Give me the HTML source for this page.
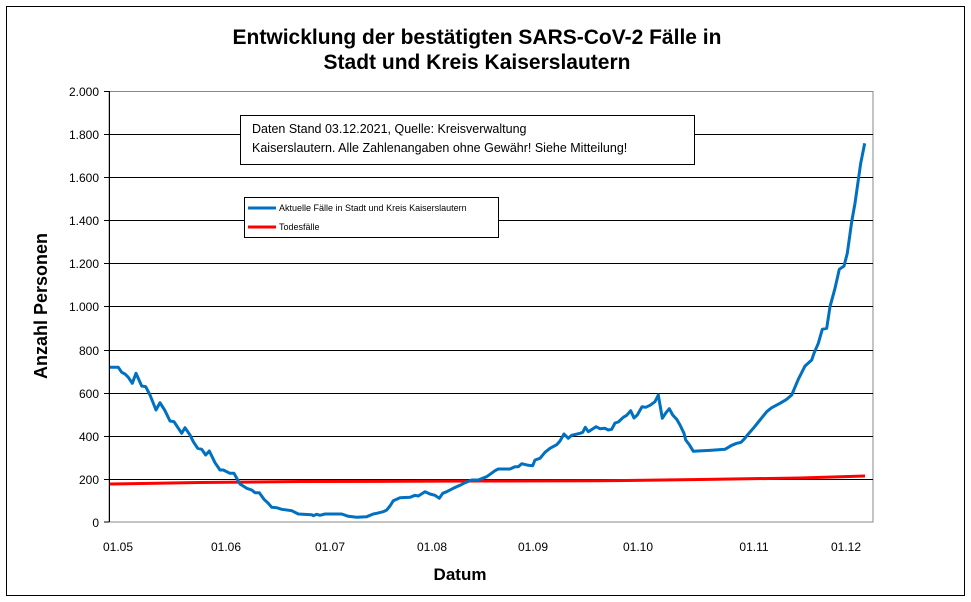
<!DOCTYPE html>
<html><head><meta charset="utf-8"><style>
body{margin:0;background:#fff;}
svg{display:block;font-family:"Liberation Sans",Arial,sans-serif;}
</style></head><body>
<svg width="971" height="602" viewBox="0 0 971 602" xmlns="http://www.w3.org/2000/svg">
<rect x="0" y="0" width="971" height="602" fill="#fff"/>
<rect x="6.5" y="6.5" width="958" height="589" fill="none" stroke="#000" stroke-width="1"/>
<text x="477" y="44" text-anchor="middle" font-size="21" font-weight="bold">Entwicklung der bestätigten SARS-CoV-2 Fälle in</text>
<text x="477" y="69" text-anchor="middle" font-size="21" font-weight="bold">Stadt und Kreis Kaiserslautern</text>
<rect x="109" y="91.5" width="764" height="430.5" fill="#fff" stroke="#888" stroke-width="1"/>
<g stroke="#000" stroke-width="1">
<line x1="109" y1="134.5" x2="873" y2="134.5"/><line x1="109" y1="177.5" x2="873" y2="177.5"/>
<line x1="109" y1="220.5" x2="873" y2="220.5"/><line x1="109" y1="263.5" x2="873" y2="263.5"/>
<line x1="109" y1="306.5" x2="873" y2="306.5"/><line x1="109" y1="350.5" x2="873" y2="350.5"/>
<line x1="109" y1="393.5" x2="873" y2="393.5"/><line x1="109" y1="436.5" x2="873" y2="436.5"/>
<line x1="109" y1="479.5" x2="873" y2="479.5"/>
<line x1="109.5" y1="91" x2="109.5" y2="522"/>
<line x1="104" y1="91.5" x2="109" y2="91.5"/><line x1="104" y1="134.5" x2="109" y2="134.5"/><line x1="104" y1="177.5" x2="109" y2="177.5"/><line x1="104" y1="220.5" x2="109" y2="220.5"/><line x1="104" y1="263.5" x2="109" y2="263.5"/><line x1="104" y1="306.5" x2="109" y2="306.5"/><line x1="104" y1="350.5" x2="109" y2="350.5"/><line x1="104" y1="393.5" x2="109" y2="393.5"/><line x1="104" y1="436.5" x2="109" y2="436.5"/><line x1="104" y1="479.5" x2="109" y2="479.5"/><line x1="104" y1="522" x2="109" y2="522"/>
</g>
<g font-size="12" text-anchor="end">
<text x="99" y="96">2.000</text><text x="99" y="139">1.800</text><text x="99" y="182">1.600</text><text x="99" y="225">1.400</text><text x="99" y="268">1.200</text><text x="99" y="311">1.000</text><text x="99" y="355">800</text><text x="99" y="398">600</text><text x="99" y="441">400</text><text x="99" y="484">200</text><text x="99" y="527">0</text>
</g>
<g font-size="12" text-anchor="middle">
<text x="118" y="551">01.05</text><text x="226" y="551">01.06</text><text x="330" y="551">01.07</text><text x="432" y="551">01.08</text><text x="533" y="551">01.09</text><text x="638" y="551">01.10</text><text x="754" y="551">01.11</text><text x="846" y="551">01.12</text>
</g>
<text x="460" y="580" text-anchor="middle" font-size="17" font-weight="bold">Datum</text>
<text transform="translate(47,306) rotate(-90)" text-anchor="middle" font-size="18" font-weight="bold">Anzahl Personen</text>
<polyline fill="none" stroke="#ff0000" stroke-width="3" points="110,484 200,482.5 300,481.5 400,481.3 480,481 600,480.8 700,479.5 800,478 865,476"/>
<polyline fill="none" stroke="#0070c0" stroke-width="3" stroke-linejoin="round" points="110,367.3 118.3,367.3 121.7,372.3 125,374 128.3,377.3 132.3,383.3 136,373.3 141.7,386 145.7,386.7 150,395 156,410 160,402.7 165,410.7 170,421 174,421.7 181.7,433.3 185,427.7 190,435 193.3,441.7 197.7,448.3 201.7,449.3 205.7,455 209.3,451 215,462.7 220,470 223.3,470 230,473.3 234,473.3 240,484 246.7,488.3 251.7,490 255,492.7 259.3,492.7 264,499.3 268.3,503.3 271.7,507.3 276.7,507.7 281.7,509.3 291.7,510.7 298.3,514 311.7,514.7 313.3,515.7 316.7,514.3 320,515.3 325,514 341.7,514 348.3,516.3 356.7,517.3 366.7,516.7 373.3,514 376.7,513.3 383.3,511.7 386.7,510 390,506 393.3,500.7 400,497.7 410,497.3 415,495.3 418.3,496 425,491.7 430,494 435,495.3 439.3,498.3 442.7,493.3 446.7,491.7 453.3,488.3 460,485.3 465,482.7 471.7,480 478.3,480 480,479.3 486.7,476.7 495,470.7 498.3,469 510,469 515,466.7 518.3,466.7 521.7,463.7 528.3,465.3 532.7,465.7 535,460 540,458.3 545,452.3 550,448.3 556.7,444.7 560,441 564,434 568.3,438.3 571.7,435.3 580,433.3 582.7,432.3 585.3,427.3 588.3,431.7 596,426.7 600,428.7 605,428.3 608.3,430 611.7,429.3 615,423 618.3,422 623.3,417.3 626.7,415.3 630.7,410.7 634,418 637.3,415 642,406.7 645.7,407.3 650,405.3 655,401.7 658.3,395 662.3,418.3 666,412.7 669.3,408.7 672.7,415 676.7,419.3 680,425 684,433.3 685.7,440 689.3,444.7 693.3,451.3 711.7,450.3 725,449.3 731.7,445.3 736.7,443.3 741,442.3 744,439.3 748.3,434 753.3,428.3 760,420 766.7,411.7 771.7,407.7 780,403.3 786.7,399.3 791.7,395 798.3,379.3 805,366 811.7,360 814,353.3 818.3,343.3 822.3,329.3 826.7,328.3 830,306.7 835,288.3 839.3,269.3 844,266 847.3,253.3 851.7,221.7 855,203.3 858.3,180 860.7,163.3 864.7,143.3"/>
<rect x="240.5" y="115.5" width="454" height="49" fill="#fff" stroke="#000"/>
<text x="252" y="133" font-size="12.5">Daten Stand 03.12.2021, Quelle: Kreisverwaltung</text>
<text x="252" y="152" font-size="12.5">Kaiserslautern. Alle Zahlenangaben ohne Gewähr! Siehe Mitteilung!</text>
<rect x="244.5" y="197.5" width="254" height="40" fill="#fff" stroke="#000"/>
<line x1="248" y1="208" x2="276" y2="208" stroke="#0070c0" stroke-width="3"/>
<text x="279" y="211" font-size="9">Aktuelle Fälle in Stadt und Kreis Kaiserslautern</text>
<line x1="248" y1="227" x2="276" y2="227" stroke="#ff0000" stroke-width="3"/>
<text x="279" y="230" font-size="9">Todesfälle</text>
</svg>
</body></html>
